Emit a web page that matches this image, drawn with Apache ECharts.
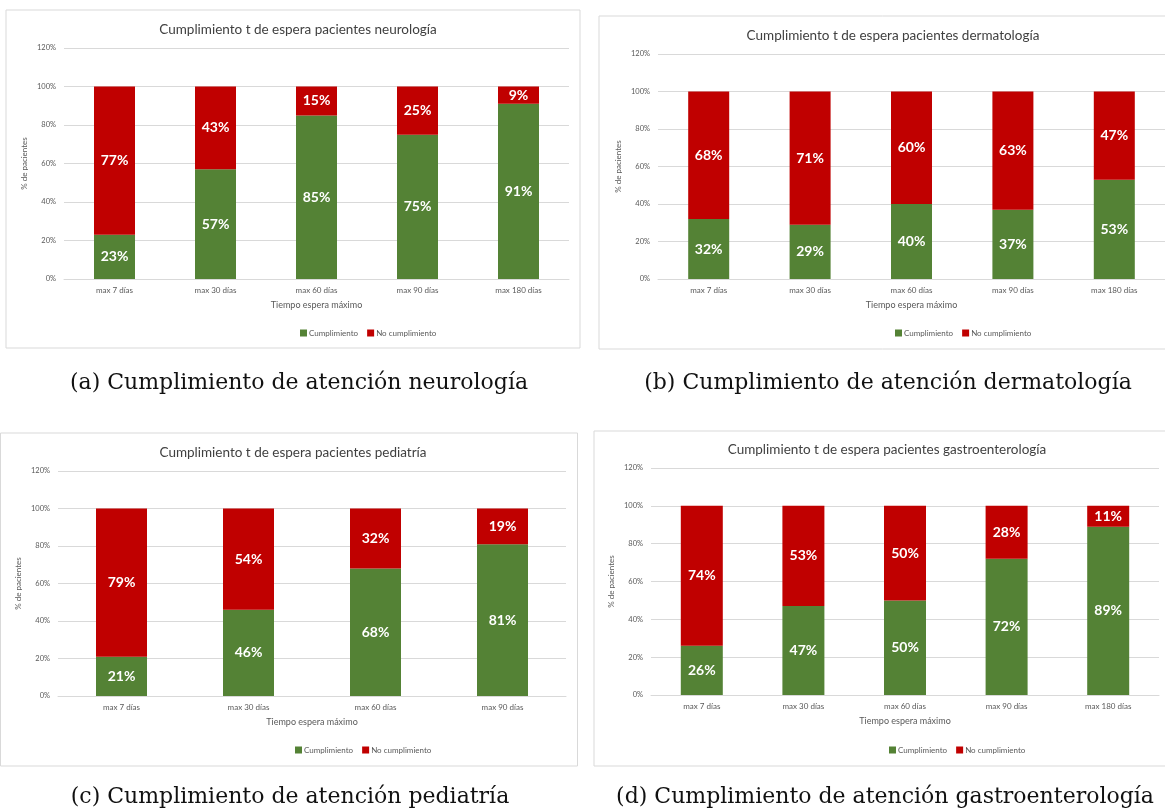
<!DOCTYPE html>
<html>
<head>
<meta charset="utf-8">
<script src="https://cdn.jsdelivr.net/npm/echarts@6/dist/echarts.min.js"></script>
<style>
  html, body { margin: 0; padding: 0; background: #fff; }
  #main { width: 1165px; height: 809px; }
</style>
</head>
<body>
<div id="main"></div>
<script>
// datos (porcentaje de pacientes)
var catsFive = ['max 7 días', 'max 30 días', 'max 60 días', 'max 90 días', 'max 180 días'];
var catsFour = ['max 7 días', 'max 30 días', 'max 60 días', 'max 90 días'];

var neuroOk = [23, 57, 85, 75, 91];
var neuroNo = [77, 43, 15, 25, 9];
var dermaOk = [32, 29, 40, 37, 53];
var dermaNo = [68, 71, 60, 63, 47];
var pediaOk = [21, 46, 68, 81];
var pediaNo = [79, 54, 32, 19];
var gastroOk = [26, 47, 50, 72, 89];
var gastroNo = [74, 53, 50, 28, 11];

var yTicks = [0, 20, 40, 60, 80, 100, 120];

var titles = [
  'Cumplimiento t de espera pacientes neurología',
  'Cumplimiento t de espera pacientes dermatología',
  'Cumplimiento t de espera pacientes pediatría',
  'Cumplimiento t de espera pacientes gastroenterología'
];
var captions = [
  '(a) Cumplimiento de atención neurología',
  '(b) Cumplimiento de atención dermatología',
  '(c) Cumplimiento de atención pediatría',
  '(d) Cumplimiento de atención gastroenterología'
];

var GREEN = '#548235';
var RED = '#c00000';
var GRAY = '#595959';
var LINE = '#d9d9d9';
var FONT = 'Lato, "Open Sans", sans-serif';

// posición de cada panel (px)
var panels = [
  { cats: catsFive, ok: neuroOk, no: neuroNo, box: [6, 10, 574, 338], grid: [64, 48, 505, 231], bar: 41, title: [293, 18], legend: [295, 324], cap: [299, 383] },
  { cats: catsFive, ok: dermaOk, no: dermaNo, box: [599, 16, 580, 333], grid: [658, 54, 507, 225], bar: 41, title: [888, 24], legend: [890, 324], cap: [888, 383] },
  { cats: catsFour, ok: pediaOk, no: pediaNo, box: [0.5, 433, 577, 333], grid: [58, 471, 508, 225], bar: 51, title: [288, 441], legend: [290, 741], cap: [290, 797] },
  { cats: catsFive, ok: gastroOk, no: gastroNo, box: [594, 431, 580, 335], grid: [651, 468, 508, 227], bar: 42, title: [882, 438], legend: [884, 741], cap: [885, 797] }
];

var myChart = echarts.init(document.getElementById('main'));

var option = {
  animation: false,
  title: [],
  legend: [],
  grid: [],
  xAxis: [],
  yAxis: [],
  series: [],
  graphic: []
};

panels.forEach(function (p, i) {
  option.graphic.push({
    type: 'rect',
    shape: { x: p.box[0], y: p.box[1], width: p.box[2], height: p.box[3] },
    style: { fill: '#fff', stroke: LINE, lineWidth: 1 },
    z: -10
  });
  option.graphic.push({
    type: 'text',
    x: p.cap[0],
    y: p.cap[1],
    style: {
      text: captions[i],
      font: '22px "DejaVu Serif", "Liberation Serif", serif',
      fill: '#111',
      textAlign: 'center',
      textVerticalAlign: 'middle'
    }
  });
  option.title.push({
    text: titles[i],
    left: p.title[0],
    top: p.title[1],
    textAlign: 'center',
    textStyle: { fontFamily: FONT, fontSize: 13.5, fontWeight: 'normal', color: '#404040' }
  });
  option.legend.push({
    data: ['Cumplimiento', 'No cumplimiento'],
    left: p.legend[0],
    top: p.legend[1],
    textAlign: 'center',
    icon: 'rect',
    itemWidth: 7,
    itemHeight: 7,
    itemGap: 9,
    selectedMode: false,
    textStyle: { fontFamily: FONT, fontSize: 8, color: GRAY, padding: [0, 0, 0, -3] }
  });
  option.grid.push({
    left: p.grid[0], top: p.grid[1], width: p.grid[2], height: p.grid[3]
  });
  option.xAxis.push({
    type: 'category',
    gridIndex: i,
    data: p.cats,
    name: 'Tiempo espera máximo',
    nameLocation: 'middle',
    nameGap: 22,
    nameTextStyle: { fontFamily: FONT, fontSize: 9, color: GRAY },
    axisLine: { lineStyle: { color: LINE } },
    axisTick: { show: false },
    axisLabel: { fontFamily: FONT, fontSize: 8, color: GRAY, margin: 7 }
  });
  option.yAxis.push({
    type: 'value',
    gridIndex: i,
    min: yTicks[0],
    max: yTicks[yTicks.length - 1],
    interval: 20,
    name: '% de pacientes',
    nameLocation: 'middle',
    nameGap: 36,
    nameTextStyle: { fontFamily: FONT, fontSize: 8, color: GRAY },
    axisLine: { show: false },
    axisTick: { show: false },
    axisLabel: { fontFamily: FONT, fontSize: 7.5, color: GRAY, margin: 8, formatter: '{value}%' },
    splitLine: { lineStyle: { color: LINE } }
  });
  var lbl = {
    show: true,
    position: 'inside',
    formatter: '{c}%',
    color: '#fff',
    fontFamily: FONT,
    fontWeight: 'bold',
    fontSize: 14
  };
  option.series.push({
    name: 'Cumplimiento',
    type: 'bar',
    stack: 's' + i,
    xAxisIndex: i,
    yAxisIndex: i,
    barWidth: p.bar,
    itemStyle: { color: GREEN },
    label: lbl,
    data: p.ok
  });
  option.series.push({
    name: 'No cumplimiento',
    type: 'bar',
    stack: 's' + i,
    xAxisIndex: i,
    yAxisIndex: i,
    barWidth: p.bar,
    itemStyle: { color: RED },
    label: lbl,
    data: p.no
  });
});

myChart.setOption(option);
</script>
</body>
</html>
